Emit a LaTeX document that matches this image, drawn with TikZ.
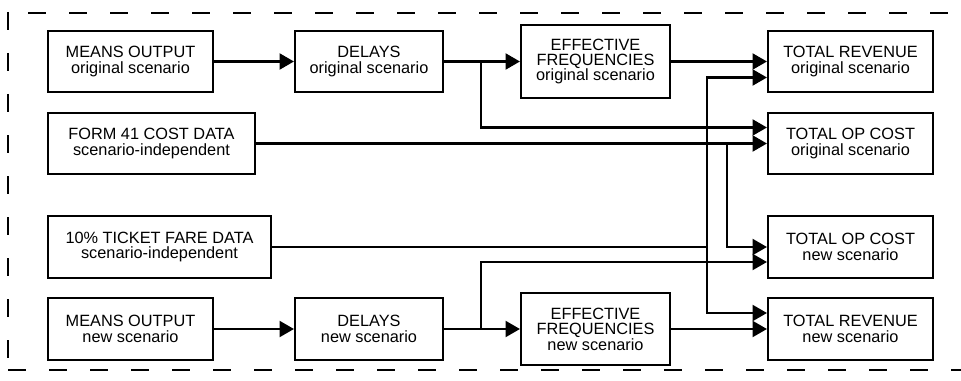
\documentclass[tikz,border=0pt]{standalone}
\usepackage{fontspec}
\setmainfont{Liberation Sans}
\usetikzlibrary{arrows.meta}

\begin{document}
\begin{tikzpicture}
    [module/.style={rectangle,draw=black,line width=1.5pt,align=center,
      inner sep=0pt,minimum height=1.525cm,
      font=\fontsize{11.6}{11}\selectfont},
    flow/.style={line width=1.5pt,-{Triangle[length=0.36cm,width=0.4cm]}},
    feed/.style={line width=1.5pt},
    frame/.style={line width=1.1pt,dash pattern=on 0.45cm off 0.575cm}]

    \useasboundingbox (0,0) rectangle (24.025,-9.5);

    % dashed boundary
    \draw[frame] (0.7,-0.325) -- (24.025,-0.325);
    \draw[frame] (0.2,-0.3) -- (0.2,-9.0);
    \draw[frame] (0.2,-9.25) -- (24.025,-9.25);

    % original scenario chain
    \node (means orig) at ( 3.2625,-1.5375) [module,minimum width=4.125cm] {MEANS OUTPUT\\original scenario};
    \node (delays orig) at ( 9.225,-1.5375) [module,minimum width=3.7cm] {DELAYS\\original scenario};
    \node (eff orig) at (14.8875,-1.5375) [module,minimum width=3.725cm,minimum height=1.825cm] {EFFECTIVE\\FREQUENCIES\\original scenario};
    \node (rev orig) at (21.2625,-1.5375) [module,minimum width=4.125cm] {TOTAL REVENUE\\original scenario};

    % scenario-independent data
    \node (form data) at ( 3.7875,-3.5875) [module,minimum width=5.175cm] {FORM 41 COST DATA\\scenario-independent};
    \node (cost orig) at (21.2625,-3.5875) [module,minimum width=4.125cm] {TOTAL OP COST\\original scenario};
    \node (fare data) at ( 3.9875,-6.175) [module,minimum width=5.575cm,minimum height=1.55cm] {10\% TICKET FARE DATA\\scenario-independent};
    \node (cost new) at (21.2625,-6.175) [module,minimum width=4.125cm,minimum height=1.55cm] {TOTAL OP COST\\new scenario};

    % new scenario chain
    \node (means new) at ( 3.2625,-8.225) [module,minimum width=4.125cm,minimum height=1.55cm] {MEANS OUTPUT\\new scenario};
    \node (delays new) at ( 9.225,-8.225) [module,minimum width=3.7cm,minimum height=1.55cm] {DELAYS\\new scenario};
    \node (eff new) at (14.8875,-8.225) [module,minimum width=3.725cm,minimum height=1.8cm] {EFFECTIVE\\FREQUENCIES\\new scenario};
    \node (rev new) at (21.2625,-8.225) [module,minimum width=4.125cm,minimum height=1.55cm] {TOTAL REVENUE\\new scenario};

    % branch points
    \coordinate (fork orig) at (12.025,-1.5375);
    \coordinate (fork new) at (12.025,-8.225);
    \coordinate (fare bus) at (17.675,-6.175);
    \coordinate (form bus) at (18.175,-3.5875);

    \draw[flow] (means orig) -- (delays orig);
    \draw[flow] (delays orig) -- (eff orig);
    \draw[flow] (eff orig) -- (rev orig);
    \draw[flow] (fork orig) |- ([yshift=0.4cm]cost orig.west);

    \draw[flow] (form data) -- (cost orig);
    \draw[flow] (form bus) |- (cost new);

    \draw[feed] (fare data) -- (fare bus);
    \draw[flow] (fare bus) |- ([yshift=-0.4cm]rev orig.west);
    \draw[flow] (fare bus) |- ([yshift=0.4cm]rev new.west);

    \draw[flow] (means new) -- (delays new);
    \draw[flow] (delays new) -- (eff new);
    \draw[flow] (eff new) -- (rev new);
    \draw[flow] (fork new) |- ([yshift=-0.375cm]cost new.west);
\end{tikzpicture}
\end{document}
